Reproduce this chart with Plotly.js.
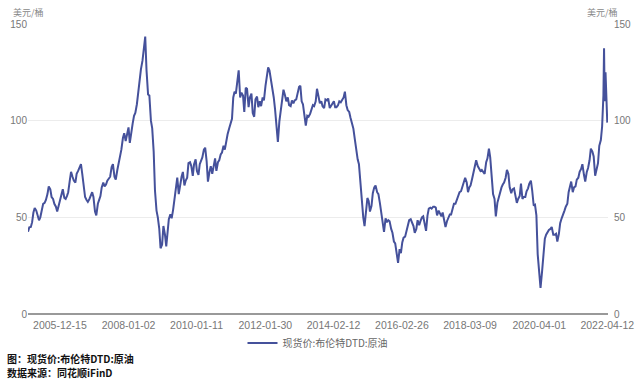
<!DOCTYPE html>
<html>
<head>
<meta charset="utf-8">
<script src="https://cdn.plot.ly/plotly-3.0.1.min.js"></script>
<style>html,body{margin:0;padding:0;background:#fff;}#chart{width:640px;height:384px;}</style>
</head>
<body>
<div id="chart"></div>
<script>
// Semi-monthly readings (1st and 15th of each month), USD/bbl
const y2005 = [42.5, 44.8, 45.0, 47.5, 52.5, 54.8, 53.5, 50.5, 48.5, 50.0, 54.0, 57.0, 57.5, 59.0, 62.0, 66.0, 64.5, 60.5, 59.5, 57.0, 55.5, 53.0, 56.0, 58.5];
const y2006 = [61.5, 64.5, 60.0, 59.5, 61.0, 63.0, 69.0, 73.5, 71.0, 69.0, 68.0, 72.5, 74.0, 76.0, 77.5, 72.5, 64.0, 60.5, 59.0, 58.0, 59.5, 61.0, 63.0, 60.5];
const y2007 = [53.0, 51.0, 57.0, 59.0, 61.0, 65.5, 68.0, 66.0, 67.0, 69.0, 70.5, 71.0, 76.0, 77.5, 71.0, 69.5, 74.5, 78.0, 80.5, 85.0, 91.0, 93.5, 89.5, 93.0];
const y2008 = [96.5, 88.5, 95.0, 98.5, 102.5, 104.0, 108.5, 114.5, 121.5, 126.5, 131.0, 136.5, 143.5, 126.0, 113.5, 113.0, 100.0, 96.0, 84.0, 64.0, 53.5, 50.0, 44.0, 34.0];
const y2009 = [36.0, 45.5, 41.0, 35.0, 44.5, 49.0, 51.5, 49.5, 54.0, 59.5, 68.0, 70.5, 62.0, 67.5, 71.0, 73.5, 66.5, 69.0, 70.5, 78.0, 78.5, 76.5, 71.5, 77.5];
const y2010 = [80.0, 74.0, 72.0, 77.5, 79.0, 81.0, 85.0, 86.0, 79.0, 68.5, 73.5, 76.5, 72.5, 76.5, 80.5, 74.0, 78.5, 79.5, 82.5, 83.5, 87.0, 85.0, 90.5, 93.0];
const y2011 = [96.0, 98.0, 101.0, 112.0, 115.0, 114.0, 121.0, 126.0, 112.0, 114.5, 113.0, 104.5, 117.0, 116.5, 107.0, 112.0, 114.0, 104.0, 102.0, 111.0, 112.5, 107.0, 110.0, 107.5];
const y2012 = [112.0, 110.5, 118.0, 122.0, 127.5, 126.0, 121.0, 118.0, 112.0, 106.0, 95.0, 89.0, 99.5, 105.5, 112.5, 116.0, 113.0, 110.0, 112.0, 108.0, 107.5, 110.5, 109.0, 110.5];
const y2013 = [111.0, 113.5, 117.5, 118.0, 110.0, 108.5, 103.0, 97.5, 102.5, 102.0, 103.5, 106.0, 108.0, 107.5, 110.0, 116.5, 112.0, 109.0, 110.0, 107.5, 106.5, 111.0, 110.5, 111.5];
const y2014 = [106.5, 107.5, 108.5, 110.0, 107.0, 107.0, 108.0, 110.0, 109.5, 110.5, 112.0, 115.0, 108.0, 105.5, 104.5, 101.5, 98.0, 96.0, 90.5, 85.5, 80.0, 77.5, 67.0, 58.0];
const y2015 = [50.0, 45.5, 55.5, 60.0, 58.5, 53.0, 56.0, 62.5, 65.5, 66.5, 63.0, 62.0, 57.5, 52.0, 45.0, 42.5, 49.5, 47.5, 48.5, 48.0, 44.0, 42.0, 37.5, 36.5];
const y2016 = [31.0, 26.5, 33.5, 31.5, 37.0, 39.5, 40.0, 43.0, 45.5, 48.5, 49.0, 47.0, 45.5, 42.0, 44.0, 48.5, 46.0, 48.0, 50.0, 50.5, 46.5, 43.0, 51.0, 54.5];
const y2017 = [55.0, 54.5, 55.5, 55.5, 55.0, 51.0, 53.5, 52.0, 50.5, 52.5, 47.0, 45.0, 48.0, 50.0, 51.5, 51.5, 54.5, 57.0, 57.0, 59.0, 61.5, 63.0, 63.5, 65.5];
const y2018 = [69.0, 70.5, 68.0, 63.0, 65.5, 66.5, 70.0, 73.5, 76.0, 79.5, 76.5, 75.0, 74.0, 74.5, 73.0, 72.5, 78.5, 80.5, 85.5, 81.0, 70.5, 62.0, 59.5, 50.5];
const y2019 = [57.5, 60.5, 62.5, 65.5, 67.0, 68.0, 70.5, 74.5, 72.5, 65.5, 62.5, 64.5, 65.0, 62.0, 57.5, 59.5, 61.0, 67.5, 59.5, 60.5, 60.5, 63.5, 65.0, 67.5];
const y2020 = [69.0, 64.0, 56.0, 56.5, 51.0, 31.0, 22.0, 13.5, 21.5, 30.5, 39.0, 41.0, 42.5, 43.5, 44.0, 45.0, 41.0, 41.0, 41.5, 37.5, 41.5, 47.0, 49.5, 51.0];
const y2021 = [53.5, 55.5, 57.0, 63.0, 66.0, 68.5, 63.0, 65.5, 66.0, 69.5, 70.5, 73.5, 75.0, 77.5, 72.0, 68.5, 73.5, 75.5, 79.5, 85.5, 84.0, 81.5, 71.5, 74.0];
const dates2022 = ['2022-01-01','2022-01-15','2022-02-01','2022-02-15','2022-03-01','2022-03-08','2022-03-15','2022-03-24','2022-04-01','2022-04-12'];
const y2022 = [78.0, 87.0, 90.0, 97.0, 113.0, 137.5, 110.0, 125.0, 108.0, 99.0];

const yearly = [y2005,y2006,y2007,y2008,y2009,y2010,y2011,y2012,y2013,y2014,y2015,y2016,y2017,y2018,y2019,y2020,y2021];

const tickDates = ['2005-12-15','2008-01-02','2010-01-11','2012-01-30','2014-02-12','2016-02-26','2018-03-09','2020-04-01','2022-04-12'];
const seriesName = '现货价:布伦特DTD:原油';
const unitLabel = '美元/桶';
const footer1 = '图：现货价:布伦特DTD:原油';
const footer2 = '数据来源：同花顺iFinD';

const xs = [], ys = [];
yearly.forEach((arr, i) => {
  const yr = 2005 + i;
  arr.forEach((v, j) => {
    const m = Math.floor(j / 2) + 1;
    const d = (j % 2 === 0) ? '01' : '15';
    xs.push(yr + '-' + String(m).padStart(2, '0') + '-' + d);
    ys.push(v);
  });
});
dates2022.forEach((d, i) => { xs.push(d); ys.push(y2022[i]); });

const cjk = '"Noto Sans CJK SC", sans-serif';
const num = '"Liberation Sans", Arial, sans-serif';

const traces = [
  {x: xs, y: ys, type: 'scatter', mode: 'lines', name: seriesName,
   line: {color: '#45519b', width: 2}, yaxis: 'y'},
  {x: xs, y: ys, type: 'scatter', mode: 'lines', showlegend: false, hoverinfo: 'skip',
   line: {color: 'rgba(0,0,0,0)', width: 0}, yaxis: 'y2'}
];

const layout = {
  width: 640, height: 384,
  margin: {l: 28, r: 32, t: 24, b: 70},
  paper_bgcolor: '#fff', plot_bgcolor: '#fff',
  showlegend: true,
  legend: {orientation: 'h', x: 0.5, xanchor: 'center', y: -0.1, yanchor: 'middle',
           font: {family: cjk, size: 10, color: '#666'}},
  xaxis: {type: 'date', range: ['2005-01-01', '2022-04-20'],
          tickmode: 'array', tickvals: tickDates, ticktext: tickDates,
          showgrid: false, zeroline: false, showline: false, ticklabelstandoff: 3,
          ticks: '', tickfont: {family: num, size: 10.5, color: '#777'}},
  yaxis: {range: [0, 150], tickvals: [0, 50, 100, 150], showgrid: true, gridcolor: '#ececec',
          zeroline: true, zerolinecolor: '#999', zerolinewidth: 1.2,
          ticks: '', ticklen: 0, tickfont: {family: num, size: 10, color: '#777'}},
  yaxis2: {range: [0, 150], tickvals: [0, 50, 100, 150], overlaying: 'y', side: 'right',
           showgrid: false, zeroline: false, ticks: '', ticklabelstandoff: 5,
           tickfont: {family: num, size: 10, color: '#777'}},
  annotations: [
    {text: unitLabel, xref: 'paper', yref: 'paper', x: 0.0, y: 1.0, yshift: 12, xanchor: 'center', yanchor: 'middle',
     showarrow: false, font: {family: cjk, size: 9, color: '#888'}},
    {text: unitLabel, xref: 'paper', yref: 'paper', x: 0.991, y: 1.0, yshift: 12, xanchor: 'center', yanchor: 'middle',
     showarrow: false, font: {family: cjk, size: 9, color: '#888'}},
    {text: '<b>' + footer1 + '</b>', xref: 'paper', yref: 'paper', x: -0.04, y: -0.152, xanchor: 'left', yanchor: 'middle',
     showarrow: false, font: {family: cjk, size: 10, color: '#111'}},
    {text: '<b>' + footer2 + '</b>', xref: 'paper', yref: 'paper', x: -0.04, y: -0.203, xanchor: 'left', yanchor: 'middle',
     showarrow: false, font: {family: cjk, size: 10, color: '#111'}}
  ]
};

Plotly.newPlot('chart', traces, layout, {displayModeBar: false, staticPlot: true});
</script>
</body>
</html>
